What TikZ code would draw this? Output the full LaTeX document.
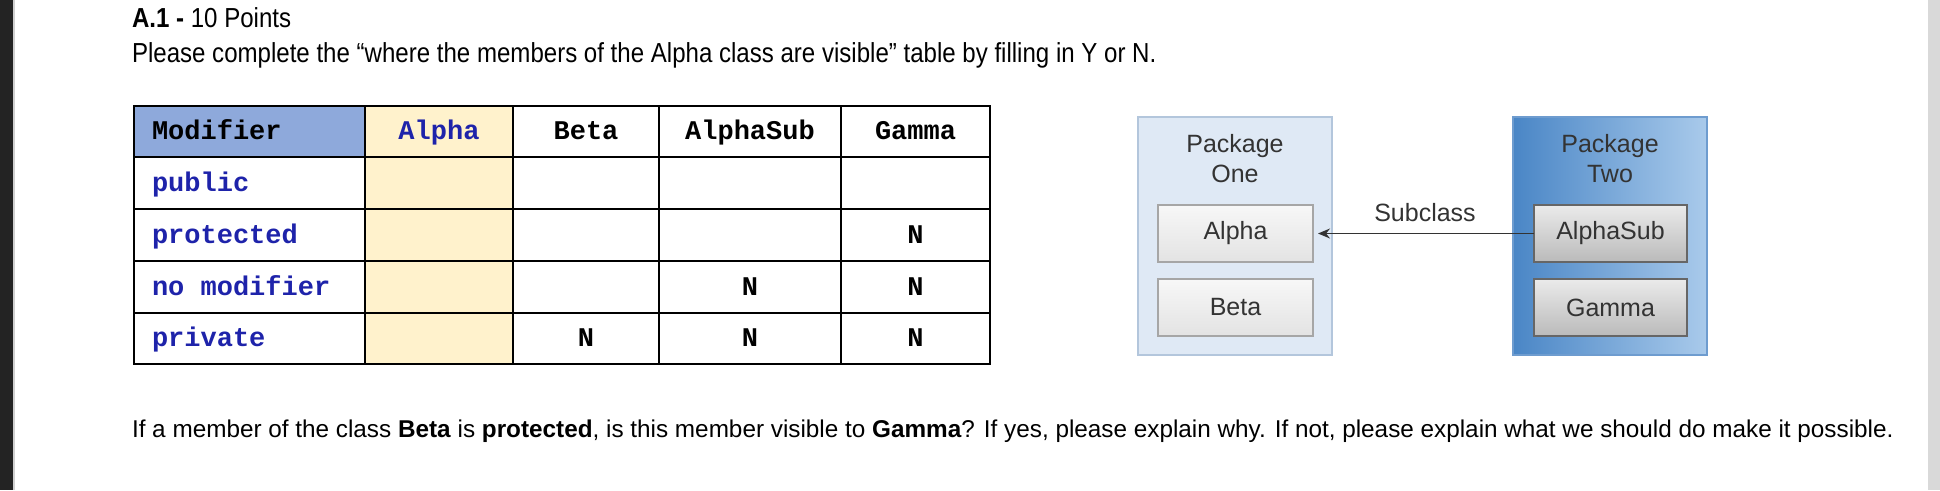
\documentclass[tikz,border=0pt]{standalone}
\usepackage{fontspec}
\setmainfont{Liberation Sans}
\setmonofont{Liberation Mono}
\newfontfamily\narrowsans[FakeStretch=0.875]{Liberation Sans}
\usetikzlibrary{arrows.meta}
\definecolor{stripdark}{HTML}{232323}
\definecolor{stripline}{HTML}{D0D0D0}
\definecolor{stripgray}{HTML}{D9D9D9}
\definecolor{headblue}{HTML}{8EA9DB}
\definecolor{alphayellow}{HTML}{FFF2CC}
\definecolor{modblue}{RGB}{30,35,170}
\definecolor{pkgonefill}{HTML}{DFE9F5}
\definecolor{pkgoneline}{HTML}{B3C6DC}
\definecolor{pkgtwodark}{HTML}{4A86C6}
\definecolor{pkgtwolight}{HTML}{A9CAEB}
\definecolor{pkgtwoline}{HTML}{6E9CCF}
\definecolor{pkgtext}{HTML}{333333}
\begin{document}
\begin{tikzpicture}[x=1pt,y=-1pt,
    every node/.style={inner sep=0pt,outer sep=0pt},
    titletext/.style={font=\fontsize{27.5}{32}\selectfont\narrowsans},
    prompttext/.style={font=\fontsize{27.5}{32}\selectfont\narrowsans},
    sanstext/.style={font=\fontsize{24.3}{29}\selectfont},
    codetext/.style={font=\fontsize{27}{30}\selectfont\ttfamily\bfseries},
    gridline/.style={black,line width=2pt},
    pkgtitle/.style={font=\fontsize{25}{30}\selectfont,text=pkgtext,align=center},
    pkgonebox/.style={draw=pkgoneline,line width=1.5pt,fill=pkgonefill,
        minimum width=194pt,minimum height=238pt},
    pkgtwobox/.style={draw=pkgtwoline,line width=1.5pt,left color=pkgtwodark,
        right color=pkgtwolight,minimum width=194pt,minimum height=238pt},
    classone/.style={draw=black!35,line width=1.5pt,top color=black!3,
        bottom color=black!11,minimum width=155pt,minimum height=57pt,
        font=\fontsize{25}{30}\selectfont,text=pkgtext},
    classtwo/.style={draw=black!60,line width=1.5pt,top color=black!8,
        bottom color=black!27,minimum width=153pt,minimum height=57pt,
        font=\fontsize{25}{30}\selectfont,text=pkgtext},
    subarrow/.style={draw=pkgtext,line width=1.5pt,
        -{Stealth[length=12pt,width=10pt]},shorten >=5pt}]
  \useasboundingbox (0,0) rectangle (1940,490);
  \fill[white] (0,0) rectangle (1940,490);
  \fill[stripdark] (0,0) rectangle (13,490);
  \fill[stripline] (13,0) rectangle (15,490);
  \fill[stripgray] (1928,0) rectangle (1940,490);
  % heading and question
  \node[titletext,anchor=base west] (title) at (132,27) {\textbf{A.1 -} 10 Points};
  \node[prompttext,anchor=base west] (prompt) at (132,62) {Please complete the “where the members of the Alpha class are visible” table by filling in Y or N.};
  \node[sanstext,anchor=base west] (question) at (132,437) {If a member of the class \textbf{Beta} is \textbf{protected}, is this member visible to \textbf{Gamma}? If yes, please explain why. If not, please explain what we should do make it possible.};
  % table
  \fill[headblue] (134,106) rectangle (365,157);
  \fill[alphayellow] (365,106) rectangle (513,364);
  \draw[gridline] (134,106) rectangle (990,364);
  \draw[gridline] (134,157) -- (990,157);
  \draw[gridline] (134,209) -- (990,209);
  \draw[gridline] (134,261) -- (990,261);
  \draw[gridline] (134,313) -- (990,313);
  \draw[gridline] (365,106) -- (365,364);
  \draw[gridline] (513,106) -- (513,364);
  \draw[gridline] (659,106) -- (659,364);
  \draw[gridline] (841,106) -- (841,364);
  \node[codetext,anchor=base west] (hdrmod) at (152,139.5) {Modifier};
  \node[codetext,anchor=base,text=modblue] (hdralpha) at (439,139.5) {Alpha};
  \node[codetext,anchor=base] (hdrbeta) at (586,139.5) {Beta};
  \node[codetext,anchor=base] (hdrsub) at (750,139.5) {AlphaSub};
  \node[codetext,anchor=base] (hdrgamma) at (915.5,139.5) {Gamma};
  \node[codetext,anchor=base west,text=modblue] (modpublic) at (152,191) {public};
  \node[codetext,anchor=base west,text=modblue] (modprotected) at (152,243) {protected};
  \node[codetext,anchor=base west,text=modblue] (modnone) at (152,295) {no modifier};
  \node[codetext,anchor=base west,text=modblue] (modprivate) at (152,346.5) {private};
  \node[codetext,anchor=base] (protgamma) at (915.5,243) {N};
  \node[codetext,anchor=base] (nonesub) at (750,295) {N};
  \node[codetext,anchor=base] (nonegamma) at (915.5,295) {N};
  \node[codetext,anchor=base] (privbeta) at (586,346.5) {N};
  \node[codetext,anchor=base] (privsub) at (750,346.5) {N};
  \node[codetext,anchor=base] (privgamma) at (915.5,346.5) {N};
  % packages
  \node[pkgonebox] (pkgone) at (1235,236) {};
  \node[pkgtwobox] (pkgtwo) at (1610,236) {};
  \node[pkgtitle] (pkgonetitle) at (1235,159) {Package\\One};
  \node[pkgtitle] (pkgtwotitle) at (1610,159) {Package\\Two};
  \node[classone] (alpha) at (1235.5,233.5) {Alpha};
  \node[classone] (beta) at (1235.5,307.5) {Beta};
  \node[classtwo] (alphasub) at (1610.5,233.5) {AlphaSub};
  \node[classtwo] (gamma) at (1610.5,307.5) {Gamma};
  \draw[subarrow] (alphasub.west) -- (alpha.east);
  \node[pkgtitle,anchor=base] (sublabel) at (1425,221) {Subclass};
\end{tikzpicture}
\end{document}
